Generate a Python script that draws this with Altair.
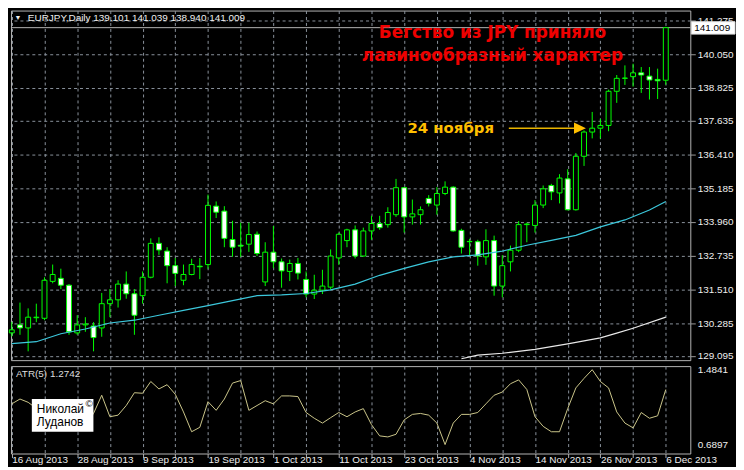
import json
import altair as alt
import pandas as pd

# ---------------- data ----------------
date_labels = ["16 Aug 2013", "28 Aug 2013", "9 Sep 2013", "19 Sep 2013", "1 Oct 2013",
               "11 Oct 2013", "23 Oct 2013", "4 Nov 2013", "14 Nov 2013", "26 Nov 2013",
               "6 Dec 2013"]

opens = [129.93, 130.22, 130.11, 130.48, 130.46, 131.80, 131.91, 131.66, 129.93, 130.22,
         130.18, 130.11, 130.99, 131.13, 131.70, 131.35, 131.28, 131.95, 133.18, 132.90,
         132.37, 131.84, 132.05, 132.35, 132.41, 134.53, 134.35, 133.32, 133.11, 133.15,
         133.51, 131.78, 132.86, 132.51, 132.16, 132.45, 131.87, 131.34, 131.48, 131.59,
         132.65, 133.28, 133.67, 132.72, 133.63, 133.90, 133.86, 134.22, 135.20, 134.14,
         134.22, 134.81, 134.57, 134.99, 135.22, 133.65, 133.24, 133.24, 132.69, 133.28,
         131.63, 132.51, 132.93, 133.86, 133.83, 134.57, 135.28, 135.01, 135.52, 134.40,
         136.34, 137.22, 137.36, 137.46, 138.70, 139.17, 139.23, 139.37, 139.25, 139.13,
         139.101]
highs = [130.33, 131.03, 130.82, 130.99, 131.95, 132.41, 132.26, 131.70, 130.57, 130.50,
         130.32, 131.38, 131.52, 131.84, 132.16, 131.52, 132.16, 133.36, 133.40, 133.04,
         132.65, 132.41, 132.62, 132.65, 134.95, 134.70, 134.53, 134.00, 133.93, 133.93,
         133.61, 133.22, 133.81, 132.63, 132.59, 132.65, 132.16, 132.04, 132.22, 132.96,
         133.57, 133.71, 133.83, 133.75, 134.18, 134.18, 134.49, 135.52, 135.22, 134.77,
         134.52, 134.93, 135.22, 135.43, 135.25, 133.71, 133.34, 133.31, 133.69, 133.46,
         132.75, 133.10, 133.99, 133.93, 134.75, 135.28, 135.34, 135.69, 135.87, 136.46,
         137.28, 137.95, 137.70, 138.76, 139.29, 139.64, 139.70, 139.58, 139.58, 139.52,
         141.039]
lows = [129.80, 129.86, 129.26, 130.32, 130.39, 131.73, 131.52, 129.86, 129.86, 129.97,
        129.26, 129.79, 130.50, 130.85, 131.17, 129.86, 130.99, 131.91, 132.76, 131.73,
        131.63, 131.66, 132.02, 131.88, 132.26, 134.10, 133.04, 132.69, 132.69, 132.87,
        132.72, 131.63, 132.28, 131.57, 131.81, 131.87, 131.22, 131.16, 131.34, 131.51,
        132.40, 133.04, 132.63, 132.70, 133.31, 133.67, 133.75, 134.14, 133.57, 133.86,
        133.86, 134.52, 134.22, 134.93, 133.60, 132.81, 132.75, 132.37, 132.40, 131.28,
        131.22, 132.16, 132.86, 133.22, 133.57, 134.46, 134.75, 134.63, 134.38, 134.37,
        135.99, 136.99, 136.99, 137.25, 138.28, 138.93, 138.87, 138.64, 138.40, 138.42,
        138.940]
closes = [130.04, 130.11, 130.50, 130.50, 131.84, 132.05, 131.66, 129.97, 130.22, 130.25,
          129.76, 130.99, 131.13, 131.70, 131.35, 130.57, 131.95, 133.18, 132.94, 132.37,
          132.09, 132.05, 132.41, 132.33, 134.56, 134.31, 133.36, 133.04, 133.08, 133.50,
          132.81, 132.86, 132.51, 132.18, 132.45, 132.10, 131.34, 131.48, 131.63, 132.72,
          133.51, 133.67, 132.72, 133.63, 133.90, 133.75, 134.30, 135.20, 134.14, 134.25,
          134.40, 134.63, 134.99, 135.22, 133.63, 133.04, 133.25, 132.72, 133.28, 131.63,
          132.37, 132.93, 133.86, 133.88, 134.57, 135.16, 135.05, 135.55, 134.40, 136.34,
          137.22, 137.36, 137.46, 138.70, 139.17, 139.18, 139.37, 139.29, 139.11, 139.08,
          141.009]

atr = [1.122, 1.173, 1.138, 1.074, 1.002, 0.952, 1.033, 1.104, 0.972, 0.901,
       1.020, 1.213, 0.985, 1.002, 1.104, 1.240, 1.234, 1.359, 1.280, 1.325,
       1.223, 1.036, 0.826, 0.873, 1.145, 1.053, 1.173, 1.342, 1.369, 1.053,
       1.104, 1.155, 1.122, 1.206, 1.206, 1.199, 1.030, 0.969, 0.918, 0.975,
       1.030, 0.985, 1.036, 1.071, 0.901, 0.782, 0.771, 0.799, 0.952, 1.010,
       1.020, 1.002, 0.918, 0.6897, 0.918, 1.010, 1.010, 1.030, 1.122, 1.213,
       1.247, 1.335, 1.376, 1.274, 0.985, 0.883, 0.826, 0.826, 1.071, 1.291,
       1.392, 1.4841, 1.359, 1.291, 1.036, 0.918, 0.867, 1.030, 0.969, 0.995,
       1.2742]

ma_fast_bar = [0, 3, 6, 9, 12, 15, 18, 21, 24, 27, 30, 33, 36, 39, 42, 45, 48, 51, 54,
               57, 60, 63, 66, 69, 72, 75, 78, 80]
ma_fast = [129.54, 129.61, 129.90, 130.07, 130.29, 130.39, 130.57, 130.75, 130.92, 131.10,
           131.28, 131.31, 131.36, 131.49, 131.70, 132.02, 132.27, 132.51, 132.69, 132.76,
           132.90, 133.11, 133.29, 133.47, 133.78, 134.03, 134.39, 134.70]

ma_slow_bar = [55, 57, 60, 64, 68, 72, 74, 76, 80]
ma_slow = [128.99, 129.12, 129.19, 129.33, 129.53, 129.75, 129.92, 130.10, 130.50]

price_ticks = [129.095, 130.285, 131.510, 132.735, 133.960, 135.185, 136.410,
               137.635, 138.825, 140.050, 141.275]
atr_ticks = [0.6897, 1.4841]
last_price = 141.009

header_text = "EURJPY,Daily  139.101 141.039 138.940 141.009"
title_lines = ["Бегство из JPY приняло", "лавинообразный характер"]
note_text = "24 ноября"
atr_text = "ATR(5) 1.2742"
author_lines = ["Николай", "Луданов"]

# ---------------- layout / style ----------------
W, H1, H2 = 684, 352, 88
XDOM = [-0.1, 83.0]
PDOM = [128.94, 141.63]
ADOM = [0.595, 1.522]
GRID = "#8a929c"
LIME = "#00ff00"
LABEL = "#eeeeee"
FONT = "Liberation Sans"

xs = alt.Scale(domain=XDOM, nice=False, zero=False)
ps = alt.Scale(domain=PDOM, nice=False, zero=False)
ats = alt.Scale(domain=ADOM, nice=False, zero=False)

grid_vals = list(range(0, 81, 4))

x_axis_top = alt.Axis(values=grid_vals, labels=False, ticks=False, domain=False, grid=True,
                      gridColor=GRID, gridDash=[3, 3], title=None)
y_axis_top = alt.Axis(orient="right", values=price_ticks, format=".3f", grid=True,
                      gridColor=GRID, gridDash=[3, 3], tickColor="#9a9a9a", tickSize=5,
                      labelPadding=2, domain=False, title=None, labelOverlap=False,
                      labelColor=LABEL, labelFontSize=10, labelFont=FONT)


def XT(f):
    return alt.X(f, type="quantitative", scale=xs, axis=x_axis_top)


def YT(f):
    return alt.Y(f, type="quantitative", scale=ps, axis=y_axis_top)


candles = pd.DataFrame({"i": list(range(len(opens))), "o": opens, "h": highs,
                        "l": lows, "c": closes})
one = pd.DataFrame({"k": [0]})

bid = alt.Chart(pd.DataFrame({"p": [last_price]})).mark_rule(
    color="#b4b4b4", strokeWidth=1).encode(y=YT("p"))

wicks = alt.Chart(candles).mark_rule(color=LIME, strokeWidth=1).encode(
    x=XT("i"), y=YT("l"), y2=alt.Y2("h"))

bodies = alt.Chart(candles).transform_calculate(
    x0="datum.i - 0.3", x1="datum.i + 0.3",
    top="max(datum.o, datum.c)", bot="min(datum.o, datum.c)"
).mark_rect(stroke=LIME, strokeWidth=1).encode(
    x=XT("x0"), x2=alt.X2("x1"), y=YT("bot"), y2=alt.Y2("top"),
    fill=alt.condition("datum.c >= datum.o", alt.value("black"), alt.value("white")))

fast = alt.Chart(pd.DataFrame({"i": ma_fast_bar, "p": ma_fast})).mark_line(
    color="#3cc8dc", strokeWidth=1.2).encode(x=XT("i"), y=YT("p"))
slow = alt.Chart(pd.DataFrame({"i": ma_slow_bar, "p": ma_slow})).mark_line(
    color="#e8e8e8", strokeWidth=1.2, clip=True).encode(x=XT("i"), y=YT("p"))

tri = alt.Chart(one).mark_text(text="▼", fontSize=7, color=LABEL, align="center",
                               baseline="middle").encode(x=alt.value(7), y=alt.value(8))
header = alt.Chart(one).mark_text(text=header_text, fontSize=10, color=LABEL, align="left",
                                  baseline="middle", font=FONT).encode(
    x=alt.value(17), y=alt.value(8))

title_df = pd.DataFrame({"i": [58.8, 58.8], "p": [140.64, 139.81], "t": title_lines})
title = alt.Chart(title_df).mark_text(font="DejaVu Sans", fontWeight="bold", fontSize=17,
                                      color="#ee0000", align="center",
                                      baseline="alphabetic").encode(
    x=XT("i"), y=YT("p"), text="t:N")

note_df = pd.DataFrame({"i": [48.4], "p": [137.17], "t": [note_text]})
note = alt.Chart(note_df).mark_text(font="DejaVu Sans", fontWeight="bold", fontSize=15,
                                    color="#ffbf00", align="left",
                                    baseline="alphabetic").encode(
    x=XT("i"), y=YT("p"), text="t:N")

arrow = alt.Chart(pd.DataFrame({"i": [60.8, 69.2], "p": [137.36, 137.36]})).mark_line(
    color="#e8b400", strokeWidth=1.5).encode(x=XT("i"), y=YT("p"))
head = alt.Chart(pd.DataFrame({"i": [69.5], "p": [137.36]})).mark_point(
    shape="M-1,-0.95L1,0L-1,0.95Z", size=144, filled=True, color="#ffbf00",
    opacity=1).encode(x=XT("i"), y=YT("p"))

py = (PDOM[1] - last_price) / (PDOM[1] - PDOM[0]) * H1
pbox = alt.Chart(one).mark_rect(fill="white", stroke="#dddddd", strokeWidth=1).encode(
    x=alt.value(W + 1), x2=alt.value(W + 45), y=alt.value(py - 6), y2=alt.value(py + 6.5))
ptext = alt.Chart(one).mark_text(text=f"{last_price:.3f}", color="black", fontSize=10,
                                 align="left", baseline="middle", font=FONT).encode(
    x=alt.value(W + 4), y=alt.value(py + 0.5))

top = alt.layer(bid, wicks, bodies, fast, slow, tri, header, title, note, arrow, head,
                pbox, ptext).properties(width=W, height=H1)

# ---------------- ATR panel ----------------
label_arr = json.dumps(date_labels)
x_axis_bot = alt.Axis(values=grid_vals,
                      labelExpr=f"datum.value % 8 == 0 ? {label_arr}[datum.value / 8] : ''",
                      labelAlign="left", labelBaseline="top", labelPadding=-3,
                      grid=True, gridColor=GRID, gridDash=[3, 3], tickSize=4,
                      tickColor="#b0b0b0", domain=False, labelOverlap=False,
                      labelFlush=False, title=None, labelColor=LABEL, labelFontSize=10,
                      labelFont=FONT)
y_axis_bot = alt.Axis(orient="right", values=atr_ticks, format=".4f", grid=False,
                      ticks=False, labelPadding=7, domain=False, title=None,
                      labelOverlap=False, labelColor=LABEL, labelFontSize=10, labelFont=FONT)

atr_df = pd.DataFrame({"i": list(range(len(atr))), "a": atr})
atr_line = alt.Chart(atr_df).mark_line(color="#cbc68a", strokeWidth=1).encode(
    x=alt.X("i:Q", scale=xs, axis=x_axis_bot),
    y=alt.Y("a:Q", scale=ats, axis=y_axis_bot))

atr_lbl = alt.Chart(one).mark_text(text=atr_text, fontSize=10, color="#dddddd",
                                   align="left", baseline="middle", font=FONT).encode(
    x=alt.value(5), y=alt.value(7.5))

abox = alt.Chart(one).mark_rect(fill="white").encode(
    x=alt.value(21), x2=alt.value(83), y=alt.value(33), y2=alt.value(66))
a1 = alt.Chart(one).mark_text(text=author_lines[0], fontSize=12, color="black",
                              align="left", baseline="middle", font=FONT).encode(
    x=alt.value(26), y=alt.value(43.5))
a2 = alt.Chart(one).mark_text(text=author_lines[1], fontSize=12, color="black",
                              align="left", baseline="middle", font=FONT).encode(
    x=alt.value(26), y=alt.value(56.5))
acopy = alt.Chart(one).mark_text(text="©", fontSize=10, color="black",
                                 align="left", baseline="middle", font=FONT).encode(
    x=alt.value(75), y=alt.value(38))

bottom = alt.layer(atr_line, atr_lbl, abox, a1, a2, acopy).properties(width=W, height=H2)

chart = alt.vconcat(top, bottom, spacing=2).properties(
    padding={"left": 0, "top": 0, "right": 0, "bottom": 0}
).configure(background="black", font=FONT).configure_view(
    stroke="#b4b4b4", strokeWidth=1)

chart.save("out.html", embed_options={"renderer": "svg", "actions": False})
